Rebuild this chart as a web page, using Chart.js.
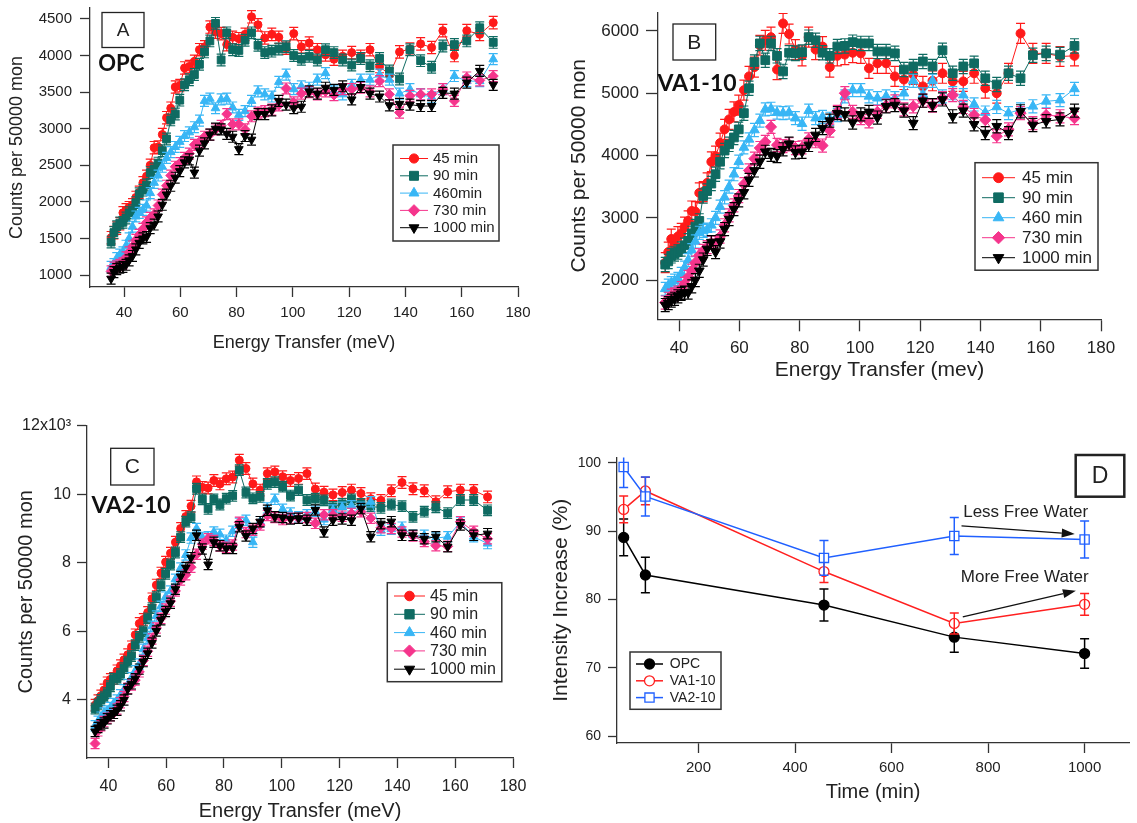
<!DOCTYPE html>
<html>
<head>
<meta charset="utf-8">
<title>INS spectra and intensity change</title>
<script src="https://cdn.jsdelivr.net/npm/chart.js@4.4.1/dist/chart.umd.min.js"></script>
<style>
  html, body { margin: 0; padding: 0; background: #fff; }
  #wrap { position: relative; width: 1137px; height: 823px; overflow: hidden; background: #fff; }
  canvas { position: absolute; }
</style>
</head>
<body>
<div id="wrap">
  <canvas id="chartA" width="540" height="360" style="left:0;top:0"></canvas>
  <canvas id="chartB" width="577" height="400" style="left:560px;top:0"></canvas>
  <canvas id="chartC" width="560" height="423" style="left:0;top:400px"></canvas>
  <canvas id="chartD" width="607" height="403" style="left:530px;top:420px"></canvas>
</div>
<script>
// energy transfer grid (meV), shared by panels A-C
const energy = [35.4, 36.4, 37.4, 38.5, 39.6, 40.7, 41.8, 43.0, 44.2, 45.4,
  46.7, 48.0, 49.3, 50.7, 52.1, 53.6, 55.1, 56.6, 58.2, 59.8,
  61.5, 63.2, 65.0, 66.8, 68.6, 70.5, 72.5, 74.5, 76.5, 78.6,
  80.8, 83.0, 85.3, 87.6, 90.0, 92.5, 95.0, 97.6, 100.3, 103.0,
  105.8, 108.7, 111.6, 114.6, 117.7, 120.9, 124.1, 127.4, 130.8, 134.3,
  137.9, 141.6, 145.4, 149.3, 153.3, 157.4, 161.8, 166.4, 171.2];

// panel A - OPC
const opc45 = [1510,1580,1640,1700,1850,1890,1920,1960,2060,2130,
  2260,2350,2500,2740,2750,2920,3150,3280,3570,3590,
  3830,3850,3920,4080,4120,4390,4320,4300,4150,4250,
  4230,4290,4530,4420,4240,4290,4250,4100,4300,4120,
  4170,4080,4010,3950,3990,4040,3990,4080,3850,3740,
  4050,4090,4160,4110,4340,4000,4340,4290,4450];
const opc90 = [1450,1580,1660,1710,1720,1780,1850,1880,1990,2110,
  2160,2230,2400,2450,2530,2700,2860,3120,3200,3390,
  3600,3670,3740,3880,4050,4200,4440,3940,4310,4080,
  4070,4210,4310,4140,4040,4060,4090,4120,4000,3950,
  3990,3940,4080,4040,3940,3870,3960,3860,3960,3790,
  3680,4080,3930,3840,4130,4150,4200,4380,4180];
const opc460 = [1110,1150,1230,1280,1310,1400,1500,1660,1800,1850,
  1890,1950,2120,2260,2360,2480,2600,2680,2750,2820,
  2900,2950,3020,3110,3380,3410,3280,3400,3410,3290,
  3190,3240,3380,3510,3470,3440,3640,3740,3540,3580,
  3560,3670,3760,3510,3470,3600,3670,3670,3740,3670,
  3480,3540,3470,3430,3540,3720,3650,3650,3950];
const opc730 = [1050,1100,1120,1140,1160,1240,1310,1390,1480,1550,
  1630,1720,1780,1830,1950,2100,2220,2360,2480,2530,
  2600,2660,2780,2820,2890,2920,2990,3040,3200,3060,
  3060,2990,3170,3220,3240,3260,3320,3550,3360,3480,
  3500,3470,3510,3460,3540,3540,3560,3510,3650,3470,
  3220,3450,3470,3470,3540,3380,3700,3660,3720];
const opc1000 = [950,1040,1080,1100,1110,1140,1200,1260,1350,1440,
  1500,1520,1640,1690,1800,1960,2100,2220,2330,2420,
  2540,2580,2400,2700,2800,2920,3000,2990,2930,2890,
  2720,2900,2850,3200,3200,3250,3380,3330,3280,3300,
  3510,3480,3560,3530,3580,3400,3570,3480,3440,3320,
  3340,3330,3310,3310,3490,3480,3630,3790,3600];

// panel B - VA1-10
const va1_45 = [2280,2450,2660,2560,2700,2750,2850,2950,3110,3100,
  3400,3420,3560,3900,3990,4200,4420,4580,4700,4810,
  5050,5270,5420,5770,5850,5900,5380,6120,5950,5700,
  5600,5900,5700,5750,5420,5600,5620,5650,5640,5400,
  5480,5480,5270,5220,5300,5110,5200,5320,5190,5190,
  5320,5080,5000,5320,5960,5640,5640,5590,5600];
const va1_90 = [2250,2300,2390,2420,2450,2500,2560,2630,2750,2860,
  2950,3350,3430,3550,3700,3900,4080,4180,4290,4420,
  4680,5080,5500,5800,5530,5800,5600,5350,5650,5640,
  5660,5900,5850,5650,5600,5750,5760,5820,5800,5800,
  5670,5670,5640,5380,5430,5510,5430,5690,5320,5430,
  5480,5240,5140,5320,5240,5610,5640,5620,5760];
const va1_460 = [1860,1910,1950,1990,2020,2100,2200,2320,2480,2620,
  2760,2790,2810,2880,3000,3180,3330,3500,3700,3900,
  4130,4260,4410,4560,4740,4750,4690,4680,4690,4600,
  4510,4720,4600,4620,4590,4650,4950,5050,5050,4950,
  4920,4950,4920,5000,5200,4980,5200,4950,5000,4970,
  4820,4690,4780,4680,4740,4790,4870,4890,5070];
const va1_730 = [1640,1700,1750,1770,1800,1870,1940,2050,2150,2280,
  2400,2470,2530,2600,2600,2700,2880,3040,3200,3350,
  3540,3760,3950,4120,4220,4460,4170,4150,4180,4120,
  4130,4260,4230,4160,4400,4700,5000,4700,4600,4550,
  4700,4800,4870,4740,4790,4880,4800,4920,4970,4780,
  4650,4570,4310,4420,4680,4520,4650,4630,4600];
const va1_1000 = [1600,1630,1670,1700,1740,1780,1800,1800,1900,2000,
  2150,2330,2500,2610,2450,2620,2820,2980,3140,3280,
  3410,3610,3760,3900,4060,4010,3990,4100,4190,4050,
  4060,4170,4330,4440,4560,4680,4660,4530,4660,4700,
  4610,4790,4810,4720,4520,4880,4810,4900,4630,4720,
  4500,4360,4470,4360,4710,4490,4550,4580,4720];

// panel C - VA2-10
const va2_45 = [3850,3980,4120,4290,4500,4600,4630,4850,5000,5170,
  5320,5550,5900,6230,6350,6550,6950,7350,7700,8020,
  8280,8600,9000,9350,9650,10360,10200,10180,10400,10300,
  10450,10500,10990,10750,10300,10120,10600,10650,10510,10400,
  10460,10600,10150,10060,9980,10050,10120,10020,9870,9820,
  10100,10340,10160,10100,9780,10070,10120,10110,9920];
const va2_90 = [3750,3870,4000,4100,4200,4400,4620,4620,4750,4930,
  5120,5280,5600,5840,6000,6380,6680,7000,7350,7680,
  7950,8300,8750,9200,9330,10160,9850,9570,9850,9700,
  9870,9950,10700,10050,9880,9920,10300,10350,10220,9960,
  10120,9830,9870,9820,9630,9720,9850,9720,9650,9600,
  9700,9650,9340,9490,9620,9450,9830,9830,9530];
const va2_460 = [3250,3380,3500,3620,3680,3780,3900,4000,4150,4300,
  4450,4650,4850,5050,5480,5800,6150,6450,6730,7000,
  7180,7520,7850,8230,8720,9000,8740,8760,8900,8830,
  8660,8920,9150,9240,8600,9200,9600,9850,9560,9450,
  9340,9400,9500,9260,9540,9620,9660,9620,9780,8950,
  8980,9040,8800,8800,8720,8760,9180,8760,8560];
const va2_730 = [2730,3100,3250,3370,3470,3540,3610,3740,3920,4100,
  4340,4440,4580,4820,5150,5420,5780,6100,6380,6650,
  6880,7180,7500,7650,7870,8250,8540,8700,8650,8490,
  8450,8520,9180,8880,8950,9100,9380,9320,9260,9300,
  9300,9320,9150,9400,9400,9360,9440,9490,9300,9020,
  9000,8900,8780,8620,8500,8480,9200,8920,8700];
const va2_1000 = [3080,3200,3280,3330,3450,3540,3610,3700,3830,4000,
  4320,4470,4620,4900,5120,5360,5660,6010,6340,6580,
  6820,7230,7600,7860,8150,8800,8400,7950,8600,8500,
  8420,8420,9050,8780,9000,9200,9530,9340,9320,9280,
  9300,9240,9540,8900,9240,9280,9240,9580,8760,9140,
  9200,8800,8800,8700,8760,8470,9100,8800,8850];

// error bar half-heights per series (45, 90, 460, 730, 1000 min)
const errA = [85, 80, 75, 75, 75];
const errB = [160, 115, 105, 105, 105];
const errC = [170, 155, 150, 150, 150];

// panel D - intensity increase vs time
const timeMin = [45, 90, 460, 730, 1000];
const incOPC = [89.1, 83.6, 79.2, 74.5, 72.1];
const incVA1 = [93.2, 95.9, 84.1, 76.5, 79.3];
const incVA2 = [99.4, 95.1, 86.1, 89.3, 88.8];
const errOPC = [2.7, 2.6, 2.35, 2.2, 2.15];
const errVA1 = [1.95, 2.0, 1.6, 1.55, 1.6];
const errVA2 = [3.0, 2.85, 2.55, 2.7, 2.7];

// ticks and names
const energyTicks = [40, 60, 80, 100, 120, 140, 160, 180];
const ticksA = [1000, 1500, 2000, 2500, 3000, 3500, 4000, 4500];
const ticksB = [2000, 3000, 4000, 5000, 6000];
const ticksC = [4000, 6000, 8000, 10000, 12000];
const labelsC = ['4', '6', '8', '10', '12x10³'];
const timeTicks = [200, 400, 600, 800, 1000];
const ticksD = [60, 70, 80, 90, 100];
const namesA = ['45 min', '90 min', '460min', '730 min', '1000 min'];
const namesBC = ['45 min', '90 min', '460 min', '730 min', '1000 min'];
const namesD = ['OPC', 'VA1-10', 'VA2-10'];

const FONT = '"Liberation Sans", Arial, sans-serif';
const AXIS = '#333';
const TXT = '#222';

const marks = [
  {color: '#FF1A1A', pointStyle: 'circle', radius: 4, rotation: 0},
  {color: '#0F6B62', pointStyle: 'rect', radius: 5.5, rotation: 0},
  {color: '#38B6F5', pointStyle: 'triangle', radius: 5, rotation: 0},
  {color: '#F5358C', pointStyle: 'rectRot', radius: 5, rotation: 0},
  {color: '#000000', pointStyle: 'triangle', radius: 5, rotation: 180}
];

function countSets(series, errs, names, k) {
  return series.map((vals, i) => ({
    label: names[i],
    data: vals.map((v, j) => ({x: energy[j], y: v})),
    borderColor: marks[i].color,
    backgroundColor: marks[i].color,
    borderWidth: 1,
    pointStyle: marks[i].pointStyle,
    pointRotation: marks[i].rotation,
    pointRadius: marks[i].radius * k,
    pointBorderWidth: 1,
    pointBackgroundColor: marks[i].color,
    pointBorderColor: marks[i].color,
    order: series.length - i,
    errorBars: errs[i],
    capHalf: 4.5,
    errWidth: 1.2
  }));
}

function xAxis(o) {
  return {
    type: 'linear', min: o.min, max: o.max, bounds: 'data',
    afterBuildTicks: ax => { ax.ticks = o.ticks.map(v => ({value: v})); },
    afterFit: ax => { ax.height = o.size; ax.paddingLeft = 0; ax.paddingRight = 0; },
    grid: {drawOnChartArea: false, tickLength: o.tickLen, tickColor: AXIS, tickWidth: 1.3},
    border: {color: AXIS, width: 1.3},
    ticks: {color: TXT, font: {family: FONT, size: o.font}, padding: o.pad, maxRotation: 0, autoSkip: false,
            callback: v => String(v)},
    title: {display: true, text: o.title, color: TXT, font: {family: FONT, size: o.titleFont},
            padding: {top: 0, bottom: o.titlePad}}
  };
}

function yAxis(o) {
  return {
    type: 'linear', min: o.min, max: o.max, bounds: 'data',
    afterBuildTicks: ax => { ax.ticks = o.ticks.map(v => ({value: v})); },
    afterFit: ax => { ax.width = o.size; ax.paddingTop = 0; ax.paddingBottom = 0; },
    grid: {drawOnChartArea: false, tickLength: o.tickLen, tickColor: AXIS, tickWidth: 1.3},
    border: {color: AXIS, width: 1.3},
    ticks: {color: TXT, font: {family: FONT, size: o.font}, padding: o.pad, autoSkip: false,
            callback: v => o.labels ? o.labels[o.ticks.indexOf(v)] : String(v)},
    title: {display: true, text: o.title, color: TXT, font: {family: FONT, size: o.titleFont},
            padding: {top: o.titlePad, bottom: 0}}
  };
}

// vertical error bars, drawn right after each dataset
const errorBars = {
  id: 'errorBars',
  afterDatasetDraw(chart, args) {
    const ds = chart.data.datasets[args.index];
    if (!ds.errorBars) return;
    const {ctx, chartArea: a} = chart;
    const ys = chart.scales.y;
    ctx.save();
    ctx.beginPath();
    ctx.rect(a.left - 6, a.top, a.right - a.left + 12, a.bottom - a.top);
    ctx.clip();
    ctx.strokeStyle = ds.borderColor;
    ctx.lineWidth = ds.errWidth;
    ctx.beginPath();
    args.meta.data.forEach((pt, i) => {
      const v = ds.data[i].y;
      const e = Array.isArray(ds.errorBars) ? ds.errorBars[i] : ds.errorBars;
      const y0 = ys.getPixelForValue(v - e), y1 = ys.getPixelForValue(v + e);
      const c = ds.capHalf;
      ctx.moveTo(pt.x, y0); ctx.lineTo(pt.x, y1);
      ctx.moveTo(pt.x - c, y0); ctx.lineTo(pt.x + c, y0);
      ctx.moveTo(pt.x - c, y1); ctx.lineTo(pt.x + c, y1);
    });
    ctx.stroke();
    ctx.restore();
  }
};

function drawArrow(ctx, x0, y0, x1, y1) {
  const ang = Math.atan2(y1 - y0, x1 - x0), len = 13, half = 4.5;
  const bx = x1 - len * Math.cos(ang), by = y1 - len * Math.sin(ang);
  ctx.beginPath(); ctx.moveTo(x0, y0); ctx.lineTo(bx, by); ctx.stroke();
  ctx.beginPath(); ctx.moveTo(x1, y1);
  ctx.lineTo(bx + half * Math.sin(ang), by - half * Math.cos(ang));
  ctx.lineTo(bx - half * Math.sin(ang), by + half * Math.cos(ang));
  ctx.closePath(); ctx.fill();
}

const DECOR = {
  chartA: {
    legend: {x: 393, y: 145, w: 106, h: 96, y0: 158.5, dy: 17.3, x0: 400, x1: 428, tx: 433, font: '15px ' + FONT, scale: 1.15},
    boxes: [{x: 102, y: 12.5, w: 42, h: 35, text: 'A', font: '19px ' + FONT, lw: 1.3}],
    labels: [{text: 'OPC', x: 121.3, y: 63.5, font: 'bold 22px Lato'}]
  },
  chartB: {
    legend: {x: 415, y: 162.7, w: 123, h: 107.5, y0: 177.7, dy: 20, x0: 422, x1: 455, tx: 462, font: '17px ' + FONT, scale: 1.1},
    boxes: [{x: 113, y: 24, w: 42.7, h: 36, text: 'B', font: '21px ' + FONT, lw: 1.3}],
    labels: [{text: 'VA1-10', x: 137, y: 83.3, font: 'bold 23px Lato'}]
  },
  chartC: {
    legend: {x: 387.3, y: 182.7, w: 114.5, h: 99, y0: 196, dy: 18.3, x0: 394, x1: 425, tx: 430, font: '16px ' + FONT, scale: 1.2},
    boxes: [{x: 110.7, y: 48.3, w: 43.3, h: 36.7, text: 'C', font: '21px ' + FONT, lw: 1.3}],
    labels: [{text: 'VA2-10', x: 131, y: 106, font: 'bold 23px Lato'}]
  },
  chartD: {
    legend: {x: 100, y: 232, w: 91, h: 57.3, y0: 244, dy: 16.8, x0: 106, x1: 133, tx: 139.8, font: '14px ' + FONT, scale: 1},
    boxes: [{x: 545.7, y: 35, w: 48.6, h: 41.7, text: 'D', font: '23px ' + FONT, lw: 2.5}],
    labels: [],
    notes: [{text: 'Less Free Water', t: 878, v: 92.8}, {text: 'More Free Water', t: 876, v: 83.3}],
    arrows: [{t0: 745, v0: 90.8, t1: 979.6, v1: 89.6}, {t0: 747.6, v0: 77.45, t1: 982, v1: 81.3}]
  }
};

const decor = {
  id: 'decor',
  afterDraw(chart) {
    const d = DECOR[chart.canvas.id];
    if (!d) return;
    const ctx = chart.ctx;
    ctx.save();
    d.boxes.forEach(b => {
      ctx.lineWidth = b.lw; ctx.strokeStyle = '#222';
      ctx.strokeRect(b.x, b.y, b.w, b.h);
      ctx.fillStyle = '#222'; ctx.font = b.font;
      ctx.textAlign = 'center'; ctx.textBaseline = 'middle';
      ctx.fillText(b.text, b.x + b.w / 2, b.y + b.h / 2 + 1);
    });
    d.labels.forEach(l => {
      ctx.fillStyle = '#111'; ctx.font = l.font;
      ctx.textAlign = 'center'; ctx.textBaseline = 'middle';
      ctx.fillText(l.text, l.x, l.y);
    });
    // legend
    const L = d.legend;
    ctx.lineWidth = 1.5; ctx.strokeStyle = '#333';
    ctx.strokeRect(L.x, L.y, L.w, L.h);
    ctx.font = L.font; ctx.textAlign = 'left'; ctx.textBaseline = 'middle';
    chart.data.datasets.forEach((ds, i) => {
      const y = L.y0 + i * L.dy;
      ctx.strokeStyle = ds.borderColor; ctx.lineWidth = ds.borderWidth;
      ctx.beginPath(); ctx.moveTo(L.x0, y); ctx.lineTo(L.x1, y); ctx.stroke();
      ctx.fillStyle = ds.pointBackgroundColor; ctx.lineWidth = ds.pointBorderWidth;
      Chart.helpers.drawPoint(ctx, {pointStyle: ds.pointStyle, rotation: ds.pointRotation || 0,
        radius: ds.pointRadius * L.scale, borderWidth: ds.pointBorderWidth}, (L.x0 + L.x1) / 2, y);
      ctx.fillStyle = '#222';
      ctx.fillText(ds.label, L.tx, y + 0.5);
    });
    // notes and arrows (panel D)
    if (d.notes) {
      const xs = chart.scales.x, ys = chart.scales.y;
      ctx.fillStyle = '#222'; ctx.strokeStyle = '#111'; ctx.lineWidth = 1.3;
      ctx.font = '17px ' + FONT; ctx.textAlign = 'center';
      d.notes.forEach(n => ctx.fillText(n.text, xs.getPixelForValue(n.t), ys.getPixelForValue(n.v)));
      ctx.fillStyle = '#111';
      d.arrows.forEach(a => drawArrow(ctx, xs.getPixelForValue(a.t0), ys.getPixelForValue(a.v0),
        xs.getPixelForValue(a.t1), ys.getPixelForValue(a.v1)));
    }
    ctx.restore();
  }
};

function countsChart(id, sets, o) {
  return new Chart(document.getElementById(id), {
    type: 'line',
    data: {datasets: sets},
    options: {
      responsive: false, animation: false, events: [],
      layout: {padding: {top: o.padTop, right: o.padRight, left: 0, bottom: 0}},
      plugins: {legend: {display: false}, tooltip: {enabled: false}},
      scales: {x: xAxis(o.x), y: yAxis(o.y)}
    },
    plugins: [errorBars, decor]
  });
}

countsChart('chartA', countSets([opc45, opc90, opc460, opc730, opc1000], errA, namesA, 1), {
  padTop: 8, padRight: 22,
  x: {min: 27.9, max: 180, ticks: energyTicks, size: 73, tickLen: 10, font: 15, pad: 7,
      title: 'Energy Transfer (meV)', titleFont: 18, titlePad: 6},
  y: {min: 836, max: 4650, ticks: ticksA, size: 90, tickLen: 10, font: 15, pad: 8,
      title: 'Counts per 50000 mon', titleFont: 18, titlePad: 6.7}
});

countsChart('chartB', countSets([va1_45, va1_90, va1_460, va1_730, va1_1000], errB, namesBC, 1.12), {
  padTop: 12.25, padRight: 36,
  x: {min: 33.0, max: 180, ticks: energyTicks, size: 80.7, tickLen: 12, font: 17, pad: 7,
      title: 'Energy Transfer (mev)', titleFont: 21, titlePad: 17},
  y: {min: 1371, max: 6300, ticks: ticksB, size: 98, tickLen: 12, font: 17, pad: 7,
      title: 'Counts per 50000 mon', titleFont: 21, titlePad: 7}
});

countsChart('chartC', countSets([va2_45, va2_90, va2_460, va2_730, va2_1000], errC, namesBC, 1), {
  padTop: 25.6, padRight: 47,
  x: {min: 32.6, max: 180, ticks: energyTicks, size: 65, tickLen: 10, font: 16, pad: 9,
      title: 'Energy Transfer (meV)', titleFont: 20, titlePad: 0},
  y: {min: 2309, max: 12000, ticks: ticksC, labels: labelsC, size: 87, tickLen: 10, font: 16, pad: 6,
      title: 'Counts per 50000 mon', titleFont: 20, titlePad: 14}
});

const dStyles = [
  {color: '#000000', fill: '#000000', pointStyle: 'circle', radius: 5},
  {color: '#FF2020', fill: '#FFFFFF', pointStyle: 'circle', radius: 5},
  {color: '#2060FF', fill: '#FFFFFF', pointStyle: 'rect', radius: 6.5}
];
const dSets = [[incOPC, errOPC], [incVA1, errVA1], [incVA2, errVA2]].map(([vals, errs], i) => ({
  label: namesD[i],
  data: vals.map((v, j) => ({x: timeMin[j], y: v})),
  borderColor: dStyles[i].color,
  backgroundColor: dStyles[i].fill,
  borderWidth: 1.5,
  pointStyle: dStyles[i].pointStyle,
  pointRotation: 0,
  pointRadius: dStyles[i].radius,
  pointBorderWidth: 1.3,
  pointBackgroundColor: dStyles[i].fill,
  pointBorderColor: dStyles[i].color,
  order: 3 - i,
  errorBars: errs,
  capHalf: 4.5,
  errWidth: 1.5
}));

countsChart('chartD', dSets, {
  padTop: 37.5, padRight: 0,
  x: {min: 31.2, max: 1092.4, ticks: timeTicks, size: 80, tickLen: 10, font: 15, pad: 6,
      title: 'Time (min)', titleFont: 20, titlePad: 18.8},
  y: {min: 59, max: 100.8, ticks: ticksD, size: 87, tickLen: 9, font: 14, pad: 7,
      title: 'Intensity Increase (%)', titleFont: 21, titlePad: 18.4}
});
</script>
</body>
</html>
